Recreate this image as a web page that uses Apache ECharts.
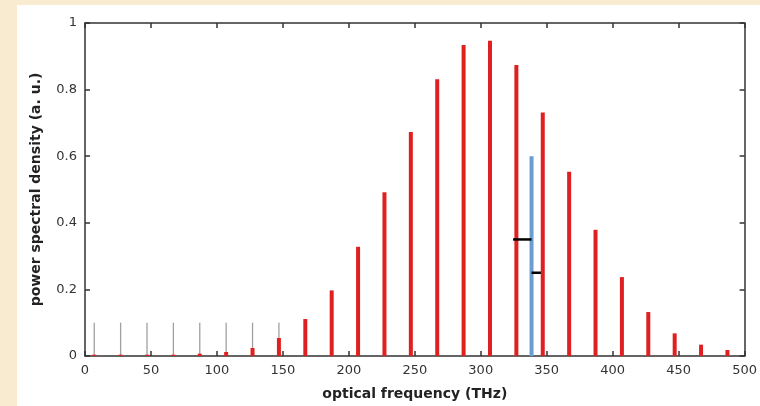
<!DOCTYPE html>
<html>
<head>
<meta charset="utf-8">
<script src="https://cdn.jsdelivr.net/npm/echarts@6/dist/echarts.min.js"></script>
<style>
    html, body {margin: 0; padding: 0; background: #F9EBCF;}
    #main {width: 760px; height: 406px;}
</style>
</head>
<body>
<div id="main"></div>
<script>
// comb lines (THz) and their power
let combFreq = [7, 27, 47, 67, 87, 107, 127, 147, 167, 187, 207, 227, 247, 267, 287, 307, 327, 347, 367, 387, 407, 427, 447, 467, 487];
let combPower = [0.004, 0.004, 0.004, 0.004, 0.007, 0.012, 0.024, 0.054, 0.111, 0.197, 0.328, 0.492, 0.673, 0.831, 0.934, 0.947, 0.874, 0.731, 0.553, 0.379, 0.237, 0.132, 0.068, 0.034, 0.018];
// grey reference lines
let greyFreq = [7, 27, 47, 67, 87, 107, 127, 147];
let greyPower = [0.1, 0.1, 0.1, 0.1, 0.1, 0.1, 0.1, 0.1];
// blue line
let blueFreq = [338.5];
let bluePower = [0.6];
// black markers: [from, to, level]
let marks = [[324.5, 338.5, 0.35], [338.5, 345.6, 0.25]];

function stems(freq, power) {
    return freq.map(function (f, i) { return [f, power[i]]; });
}

function stemSeries(data, color, width, z) {
    return {
        type: 'custom',
        z: z,
        data: data,
        renderItem: function (params, api) {
            let p0 = api.coord([api.value(0), 0]);
            let p1 = api.coord([api.value(0), api.value(1)]);
            return {
                type: 'line',
                shape: {x1: p0[0], y1: p0[1], x2: p1[0], y2: p1[1]},
                style: {stroke: color, lineWidth: width}
            };
        }
    };
}

// frame axis settings (fresh object each time)
function frame(min, max, interval, position, showLabel) {
    return {
        type: 'value', position: position, min: min, max: max, interval: interval,
        axisLine: {show: true, onZero: false, lineStyle: {color: '#333', width: 1.5}},
        axisTick: {show: true, inside: true, length: 5, lineStyle: {color: '#333', width: 1.5}},
        splitLine: {show: false},
        axisLabel: {show: showLabel, inside: false, margin: 8, fontFamily: 'DejaVu Sans', fontSize: 13, color: '#333'}
    };
}

let myChart = echarts.init(document.getElementById('main'));

let xBottom = frame(0, 500, 50, 'bottom', true);
xBottom.name = 'optical frequency (THz)';
xBottom.nameLocation = 'middle';
xBottom.nameGap = 31;
xBottom.nameTextStyle = {fontFamily: 'DejaVu Sans', fontSize: 14, fontWeight: 'bold', color: '#222'};

let yLeft = frame(0, 1, 0.2, 'left', true);
yLeft.name = 'power spectral density (a. u.)';
yLeft.nameLocation = 'middle';
yLeft.nameGap = 42;
yLeft.nameTextStyle = {fontFamily: 'DejaVu Sans', fontSize: 14, fontWeight: 'bold', color: '#222'};

let option = {
    animation: false,
    backgroundColor: '#F9EBCF',
    graphic: [{
        type: 'rect',
        z: -10,
        shape: {x: 17, y: 5, width: 760, height: 420},
        style: {fill: '#fff'}
    }],
    grid: {left: 85, right: 15, top: 23, bottom: 50},
    xAxis: [xBottom, frame(0, 500, 50, 'top', false)],
    yAxis: [yLeft, frame(0, 1, 0.2, 'right', false)],
    series: [
        stemSeries(stems(greyFreq, greyPower), '#A0A0A0', 1.3, 2),
        stemSeries(stems(combFreq, combPower), '#E02020', 4, 3),
        stemSeries(stems(blueFreq, bluePower), '#6A9ED2', 4, 4),
        {
            type: 'custom',
            z: 5,
            data: marks,
            renderItem: function (params, api) {
                let p0 = api.coord([api.value(0), api.value(2)]);
                let p1 = api.coord([api.value(1), api.value(2)]);
                return {
                    type: 'line',
                    shape: {x1: p0[0], y1: p0[1], x2: p1[0], y2: p1[1]},
                    style: {stroke: '#000', lineWidth: 2.5}
                };
            }
        }
    ]
};
myChart.setOption(option);
</script>
</body>
</html>
